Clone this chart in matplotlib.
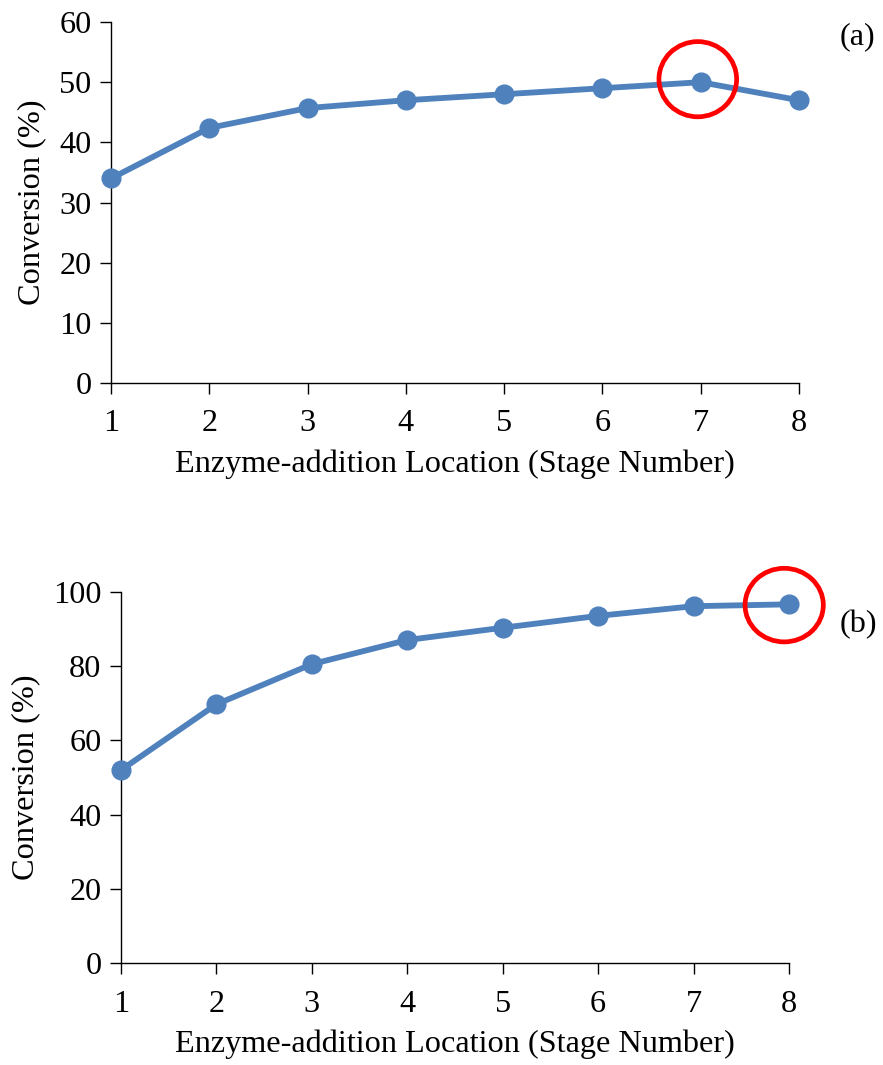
import matplotlib
matplotlib.use("Agg")
import matplotlib.pyplot as plt
from matplotlib.patches import Ellipse

# Vi tri bo sung enzyme (so tang)
stages = [1, 2, 3, 4, 5, 6, 7, 8]

# Do chuyen hoa (%) cho hai truong hop (a) va (b)
conv_a = [34.0, 42.4, 45.7, 47.0, 48.0, 49.0, 50.0, 47.0]
conv_b = [52.0, 69.7, 80.5, 87.0, 90.3, 93.5, 96.1, 96.6]

yticks_a = [0, 10, 20, 30, 40, 50, 60]
yticks_b = [0, 20, 40, 60, 80, 100]

plt.rcParams['font.family'] = ['Liberation Serif', 'DejaVu Serif']
fs = 23.2

blue = '#4F81BD'

fig = plt.figure(figsize=(8.83, 10.65), dpi=100)
ax_a = fig.add_axes([0.1257, 0.6404, 0.7792, 0.3389])
ax_b = fig.add_axes([0.1370, 0.0955, 0.7565, 0.3489])


def ve_truc(ax, y, yticks, ymax):
    ax.plot(stages, y, color=blue, lw=4.2, marker='o', ms=13.5,
            clip_on=False, zorder=3)
    ax.set_xlim(1, 8)
    ax.set_ylim(0, ymax)
    ax.set_xticks(stages)
    ax.set_yticks(yticks)
    for s in ['top', 'right']:
        ax.spines[s].set_visible(False)
    for s in ['left', 'bottom']:
        ax.spines[s].set_linewidth(1.0)
    ax.tick_params(axis='both', direction='out', length=8, width=1.0,
                   labelsize=fs, pad=6)
    ax.tick_params(axis='x', pad=11)
    ax.set_xlabel('Enzyme-addition Location (Stage Number)', fontsize=fs,
                  labelpad=8)
    ax.set_ylabel('Conversion (%)', fontsize=fs, labelpad=9)


ve_truc(ax_a, conv_a, yticks_a, 60)
ve_truc(ax_b, conv_b, yticks_b, 100)

# Vong tron do danh dau diem toi uu
ax_a.add_patch(Ellipse((6.97, 50.5), 0.79, 12.5, fill=False,
                       edgecolor='#FF0000', lw=3.4, clip_on=False, zorder=4))
ax_b.add_patch(Ellipse((7.95, 96.4), 0.82, 19.8, fill=False,
                       edgecolor='#FF0000', lw=3.4, clip_on=False, zorder=4))

fig.text(857 / 883, 1 - 37 / 1065, '(a)', fontsize=fs, ha='center', va='center')
fig.text(858 / 883, 1 - 625 / 1065, '(b)', fontsize=fs, ha='center', va='center')

fig.savefig('out.png', dpi=100)
